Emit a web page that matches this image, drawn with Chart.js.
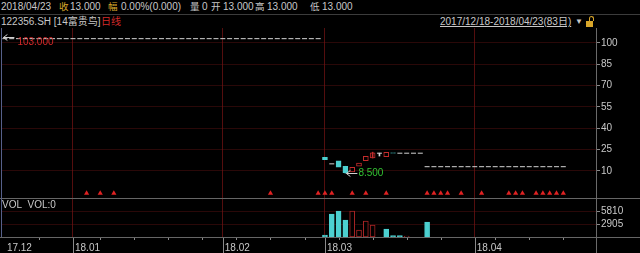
<!DOCTYPE html>
<html lang="zh-CN">
<head>
<meta charset="UTF-8">
<title>122356.SH 日线</title>
<script src="https://cdn.jsdelivr.net/npm/chart.js@4"></script>
<style>
    body {
        margin: 0;
        background: #000;
        width: 640px;
        height: 253px;
        overflow: hidden;
        position: relative;
        font-family: "Liberation Sans", Arial, "Noto Sans CJK SC", sans-serif;
        font-size: 10px;
        color: #c8c8c8;
    }
    .t { position: absolute; white-space: nowrap; line-height: 12px; }
    .cjk { font-size: 9.5px; }
    .gold { color: #d9a62a; }
    .red { color: #d42a2a; }
    .hl { position: absolute; height: 1px; background: #5c5c5c; }
    .vl { position: absolute; width: 1px; background: #6a6a6a; }
    #priceBox { position: absolute; left: 0; top: 28px; width: 640px; height: 170px; }
    #volBox { position: absolute; left: 0; top: 198px; width: 640px; height: 55px; }
    #range { text-decoration: underline; }
    #lock { position: absolute; left: 586px; top: 21px; width: 7px; height: 6px; background: #d9a62a; }
    #lockTop { position: absolute; left: 589px; top: 16px; width: 3px; height: 4px;
               border: 1.5px solid #d9a62a; border-bottom: none; border-radius: 3px 3px 0 0; }
</style>
</head>
<body>
    <!-- 行情栏 -->
    <span class="t" style="left:1px;top:1px">2018/04/23</span>
    <span class="t gold cjk" style="left:59px;top:1px">收</span>
    <span class="t" style="left:70px;top:1px">13.000</span>
    <span class="t gold cjk" style="left:108px;top:1px">幅</span>
    <span class="t" style="left:121px;top:1px">0.00%(0.000)</span>
    <span class="t cjk" style="left:190px;top:1px">量</span>
    <span class="t" style="left:202px;top:1px">0</span>
    <span class="t cjk" style="left:211px;top:1px">开</span>
    <span class="t" style="left:223px;top:1px">13.000</span>
    <span class="t cjk" style="left:255px;top:1px">高</span>
    <span class="t" style="left:267px;top:1px">13.000</span>
    <span class="t cjk" style="left:310px;top:1px">低</span>
    <span class="t" style="left:322px;top:1px">13.000</span>
    <div class="hl" style="left:0;top:14px;width:640px;background:#3c3c3c"></div>

    <span class="t" style="left:1px;top:16px">122356.SH [14富贵鸟]</span>
    <span class="t red" style="left:101px;top:16px">日线</span>
    <span class="t" id="range" style="left:440px;top:16px">2017/12/18-2018/04/23(83日)</span>
    <span class="t" style="left:575px;top:16px;font-size:8px">▼</span>
    <div id="lockTop"></div>
    <div id="lock"></div>

    <div id="priceBox"><canvas id="priceChart"></canvas></div>
    <div id="volBox"><canvas id="volChart"></canvas></div>
    <span class="t" style="left:2px;top:199px">VOL&nbsp;&nbsp;VOL:0</span>

    <div class="hl" style="left:0;top:198px;width:640px;background:#666"></div>
    <div class="hl" style="left:0;top:237px;width:640px;background:#666"></div>
    <div class="vl" style="left:596px;top:28px;height:225px"></div>
    <div class="vl" style="left:1px;top:28px;height:209px;background:#56608a"></div>

<script>
// 交易日 2017/12/18 - 2018/04/23 (83日)
const days = [
    '12/18','12/19','12/20','12/21','12/22','12/25','12/26','12/27','12/28','12/29',
    '1/2','1/3','1/4','1/5','1/8','1/9','1/10','1/11','1/12','1/15','1/16','1/17',
    '1/18','1/19','1/22','1/23','1/24','1/25','1/26','1/29','1/30','1/31',
    '2/1','2/2','2/5','2/6','2/7','2/8','2/9','2/12','2/13','2/14','2/22','2/23',
    '2/26','2/27','2/28',
    '3/1','3/2','3/5','3/6','3/7','3/8','3/9','3/12','3/13','3/14','3/15','3/16',
    '3/19','3/20','3/21','3/22','3/23','3/26','3/27','3/28','3/29','3/30',
    '4/2','4/3','4/4','4/9','4/10','4/11','4/12','4/13','4/16','4/17','4/18','4/19',
    '4/20','4/23'
];

// 每日收盘价 (停牌日沿用前收)
const closes = [
    103, 103, 103, 103, 103, 103, 103, 103, 103, 103,
    103, 103, 103, 103, 103, 103, 103, 103, 103, 103,
    103, 103, 103, 103, 103, 103, 103, 103, 103, 103,
    103, 103, 103, 103, 103, 103, 103, 103, 103, 103,
    103, 103, 103, 103, 103, 103, 103,
    17.9, 15, 12.6, 8.8, 12.6, 15.6, 20.3, 22.7, 22.5, 23.1, 22.5,
    22.5, 22.5, 22.5, 22.5,
    13, 13, 13, 13, 13, 13, 13, 13, 13, 13,
    13, 13, 13, 13, 13, 13, 13, 13, 13, 13, 13
];

// 有成交的日子
const tradeDays  = ['3/1', '3/2', '3/5', '3/6', '3/7', '3/8', '3/9', '3/12', '3/13', '3/14', '3/15', '3/22'];
const tradeOpens = [19.6, 15, 17.2, 13.3, 9.3, 13.3, 17.2, 19.1, 22.5, 20.1, 22.8, 13];
const tradeHighs = [19.6, 15, 17.2, 13.3, 12.6, 15.6, 20.3, 23.2, 22.5, 23.1, 22.8, 13];
const tradeLows  = [17.9, 15, 12.6, 8.5, 9.3, 13.3, 17.2, 19.1, 20.5, 20.1, 22.5, 13];

// 成交量
const volDays    = ['3/1', '3/2', '3/5', '3/6', '3/7', '3/8', '3/9', '3/12', '3/14', '3/15', '3/16', '3/19', '3/22'];
const volumes    = [450, 5140, 5810, 3800, 5810, 1560, 3575, 2680, 1790, 300, 300, 200, 3350];
const volFalling = [true, true, true, true, false, false, false, false, true, true, true, false, true];

// 信息地雷
const starDays = ['1/4', '1/8', '1/10', '2/12', '2/28', '3/1', '3/2', '3/7', '3/9', '3/14',
                  '3/22', '3/23', '3/26', '3/27', '3/29', '4/3', '4/11', '4/12', '4/13',
                  '4/17', '4/18', '4/19', '4/20', '4/23'];

const monthStarts = ['12/18', '1/2', '2/1', '3/1', '4/2'];
const monthLabels = ['17.12', '18.01', '18.02', '18.03', '18.04'];
const weekStarts  = ['12/25', '1/8', '1/15', '1/22', '1/29', '2/5', '2/12', '2/26',
                     '3/5', '3/12', '3/19', '3/26', '4/9', '4/16', '4/23'];
const priceTicks = [10, 25, 40, 55, 70, 85, 100];
const volTicks = [2905, 5810];

const UP = '#c42c2c';
const DOWN = '#4cd0d0';
const FLAT = '#d4d4d4';
const GRID = 'rgba(110, 20, 20, 0.38)';
const MONTH_LINE = 'rgba(140, 24, 24, 0.6)';

const idx = d => days.indexOf(d);
const monthIdx = monthStarts.map(idx);

Chart.defaults.font.family = '"Liberation Sans", Arial, sans-serif';
Chart.defaults.font.size = 10;
Chart.defaults.color = '#c8c8c8';

// 每日K线
const bodies = [], bodyColors = [], wicks = [], wickColors = [], dashes = [];
days.forEach((d, i) => {
    const t = tradeDays.indexOf(d);
    const c = closes[i];
    const o = t >= 0 ? tradeOpens[t] : c;
    const col = c > o ? UP : c < o ? DOWN : FLAT;
    if (o === c) {
        dashes.push({ x: i, y: c });
    } else {
        bodies.push({ x: i, y: [o, c] });
        bodyColors.push(col);
    }
    if (t >= 0 && (tradeHighs[t] > Math.max(o, c) || tradeLows[t] < Math.min(o, c))) {
        wicks.push({ x: i, y: [tradeLows[t], tradeHighs[t]] });
        wickColors.push(col);
    }
});

const xScale = {
    type: 'linear',
    min: -0.57,
    max: 86.8,
    offset: false,
    afterBuildTicks: s => { s.ticks = monthIdx.map(v => ({ value: v })); },
    grid: {
        offset: false,
        drawTicks: false,
        color: c => (c.tick && c.tick.value === 0) ? 'rgba(0,0,0,0)' : MONTH_LINE
    },
    border: { display: false }
};

// 最高/最低价标记
const extremeMarks = {
    id: 'extremeMarks',
    afterDatasetsDraw(chart) {
        const x = chart.scales.x, y = chart.scales.y, ctx = chart.ctx;
        let hi = -Infinity, hiI = 0, lo = Infinity, loI = 0;
        days.forEach((d, i) => {
            const t = tradeDays.indexOf(d);
            const h = t >= 0 ? tradeHighs[t] : closes[i];
            const l = t >= 0 ? tradeLows[t] : closes[i];
            if (h > hi) { hi = h; hiI = i; }
            if (l < lo) { lo = l; loI = i; }
        });
        const arrow = (px, py) => {
            ctx.strokeStyle = '#d0d0d0';
            ctx.lineWidth = 1;
            ctx.beginPath();
            ctx.moveTo(px, py); ctx.lineTo(px + 11, py);
            ctx.moveTo(px, py); ctx.lineTo(px + 4, py - 3);
            ctx.moveTo(px, py); ctx.lineTo(px + 4, py + 3);
            ctx.stroke();
        };
        ctx.save();
        ctx.font = '10px "Liberation Sans", Arial, sans-serif';
        ctx.textAlign = 'left';

        const hx = x.getPixelForValue(hiI) - 1.5, hy = Math.round(y.getPixelForValue(hi)) - 1.5;
        arrow(hx, hy);
        ctx.fillStyle = '#d42a2a';
        ctx.textBaseline = 'top';
        ctx.fillText(hi.toFixed(3), hx + 14, hy);

        const lx = x.getPixelForValue(loI) + 1, ly = Math.round(y.getPixelForValue(lo)) + 0.5;
        arrow(lx, ly);
        ctx.fillStyle = '#33c233';
        ctx.textBaseline = 'middle';
        ctx.fillText(lo.toFixed(3), lx + 12, ly);
        ctx.restore();
    }
};

new Chart(document.getElementById('priceChart'), {
    type: 'bar',
    data: {
        datasets: [
            {
                label: 'wick',
                data: wicks,
                backgroundColor: wickColors,
                barThickness: 1,
                grouped: false,
                borderWidth: 0
            },
            {
                label: 'body',
                data: bodies,
                backgroundColor: bodyColors.map(c => c === UP ? '#000' : c),
                borderColor: bodyColors,
                borderWidth: 1,
                borderSkipped: false,
                barThickness: 5,
                grouped: false
            },
            {
                type: 'line',
                label: 'flat',
                data: dashes,
                showLine: false,
                pointStyle: 'line',
                pointRadius: 2.5,
                pointBorderColor: FLAT,
                pointBorderWidth: 1
            },
            {
                type: 'line',
                label: 'info',
                data: starDays.map(d => ({ x: idx(d), y: -5.6 })),
                showLine: false,
                pointStyle: 'triangle',
                pointRadius: 3,
                pointBackgroundColor: '#e02222',
                pointBorderWidth: 0
            }
        ]
    },
    options: {
        responsive: true,
        maintainAspectRatio: false,
        animation: false,
        devicePixelRatio: 1,
        layout: { autoPadding: false, padding: { left: 1, right: 0, top: 0, bottom: 0 } },
        plugins: { legend: { display: false }, tooltip: { enabled: false } },
        scales: {
            x: {
                ...xScale,
                ticks: { display: false },
                afterFit: s => { s.height = 0; s.paddingLeft = 0; s.paddingRight = 0; }
            },
            y: {
                position: 'right',
                min: -9,
                max: 110.5,
                afterBuildTicks: s => { s.ticks = priceTicks.map(v => ({ value: v })); },
                afterFit: s => { s.width = 44; s.paddingTop = 0; s.paddingBottom = 0; },
                grid: { color: GRID, tickColor: '#8a8a8a', tickLength: 4 },
                border: { display: false },
                ticks: { color: '#c8c8c8', padding: 1 }
            }
        }
    },
    plugins: [extremeMarks]
});

// 月份分隔线与周刻度
const axisMarks = {
    id: 'axisMarks',
    afterDraw(chart) {
        const x = chart.scales.x, ctx = chart.ctx, b = chart.chartArea.bottom;
        ctx.save();
        ctx.strokeStyle = '#8a8a8a';
        ctx.lineWidth = 1;
        ctx.beginPath();
        monthIdx.slice(1).forEach(v => {
            const px = Math.round(x.getPixelForValue(v)) + 0.5;
            ctx.moveTo(px, b); ctx.lineTo(px, chart.height);
        });
        weekStarts.forEach(d => {
            const px = Math.round(x.getPixelForValue(idx(d))) + 0.5;
            ctx.moveTo(px, b); ctx.lineTo(px, b + 3);
        });
        ctx.stroke();
        ctx.restore();
    }
};

new Chart(document.getElementById('volChart'), {
    type: 'bar',
    data: {
        datasets: [{
            label: 'VOL',
            data: volDays.map((d, i) => ({ x: idx(d), y: volumes[i] })),
            backgroundColor: volFalling.map(f => f ? DOWN : '#000'),
            borderColor: volFalling.map(f => f ? DOWN : '#a82424'),
            borderWidth: 1,
            borderSkipped: false,
            barThickness: 5,
            grouped: false
        }]
    },
    options: {
        responsive: true,
        maintainAspectRatio: false,
        animation: false,
        devicePixelRatio: 1,
        layout: { autoPadding: false, padding: { left: 1, right: 0, top: 0, bottom: 0 } },
        plugins: { legend: { display: false }, tooltip: { enabled: false } },
        scales: {
            x: {
                ...xScale,
                ticks: {
                    align: 'start',
                    autoSkip: false,
                    maxRotation: 0,
                    padding: 5,
                    labelOffset: 2,
                    color: '#c8c8c8',
                    callback: v => monthLabels[monthIdx.indexOf(v)]
                },
                afterFit: s => { s.height = 16; s.paddingLeft = 0; s.paddingRight = 0; }
            },
            y: {
                position: 'right',
                min: 0,
                max: 8715,
                afterBuildTicks: s => { s.ticks = volTicks.map(v => ({ value: v })); },
                afterFit: s => { s.width = 44; s.paddingTop = 0; s.paddingBottom = 0; },
                grid: { color: GRID, tickColor: '#8a8a8a', tickLength: 4 },
                border: { display: false },
                ticks: { color: '#c8c8c8', padding: 1, callback: v => String(v) }
            }
        }
    },
    plugins: [axisMarks]
});
</script>
</body>
</html>
